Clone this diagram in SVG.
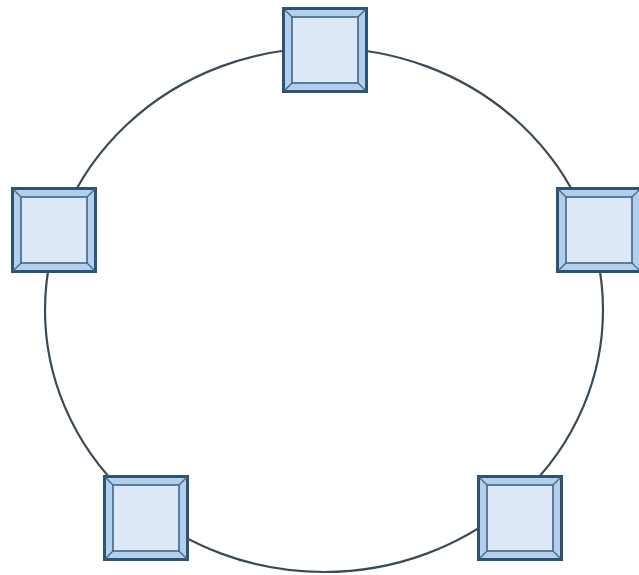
<svg xmlns="http://www.w3.org/2000/svg" xmlns:xlink="http://www.w3.org/1999/xlink" width="639" height="575" viewBox="0 0 639 575">
<style>
.ring{fill:none;stroke:#3b4a57;stroke-width:2.2}
.outer{fill:#b3cfeb;stroke:#2c5274;stroke-width:3}
.inner{fill:#dce8f8;stroke:#3e6688;stroke-width:1.6}
.bev{stroke:#3e6688;stroke-width:1.2}
</style>
<defs>
<g id="box">
<rect class="outer" x="1.5" y="1.5" width="83" height="83"/>
<rect class="inner" x="10" y="10" width="66" height="66"/>
<line class="bev" x1="2" y1="2" x2="10" y2="10"/>
<line class="bev" x1="84" y1="2" x2="76" y2="10"/>
<line class="bev" x1="2" y1="84" x2="10" y2="76"/>
<line class="bev" x1="84" y1="84" x2="76" y2="76"/>
</g>
</defs>
<rect width="639" height="575" fill="#ffffff"/>
<g id="connectors">
<ellipse class="ring" cx="324" cy="310" rx="279" ry="262"/>
</g>
<g id="node-top"><use xlink:href="#box" x="282" y="7"/></g>
<g id="node-left"><use xlink:href="#box" x="11" y="187"/></g>
<g id="node-right"><use xlink:href="#box" x="556" y="187"/></g>
<g id="node-bottom-left"><use xlink:href="#box" x="103" y="475"/></g>
<g id="node-bottom-right"><use xlink:href="#box" x="477" y="475"/></g>
</svg>
